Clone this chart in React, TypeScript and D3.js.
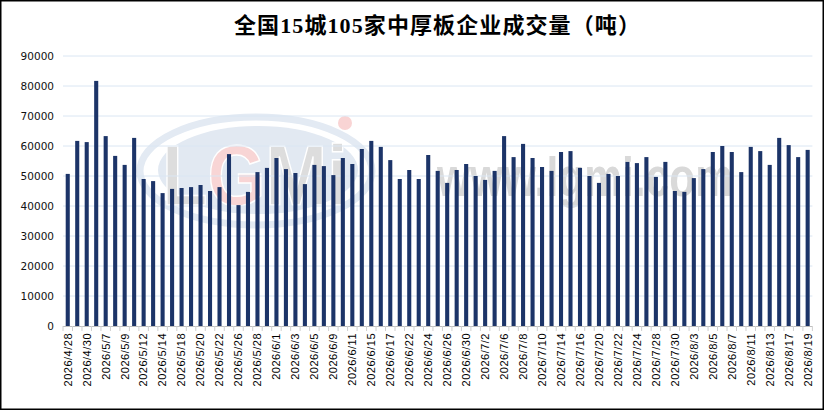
import React from "react";
import * as d3 from "d3";

const dates: string[] = [
  "2026/4/28","2026/4/29","2026/4/30","2026/5/6","2026/5/7","2026/5/8","2026/5/9","2026/5/11","2026/5/12","2026/5/13",
  "2026/5/14","2026/5/15","2026/5/18","2026/5/19","2026/5/20","2026/5/21","2026/5/22","2026/5/25","2026/5/26","2026/5/27",
  "2026/5/28","2026/5/29","2026/6/1","2026/6/2","2026/6/3","2026/6/4","2026/6/5","2026/6/8","2026/6/9","2026/6/10",
  "2026/6/11","2026/6/12","2026/6/15","2026/6/16","2026/6/17","2026/6/18","2026/6/22","2026/6/23","2026/6/24","2026/6/25",
  "2026/6/26","2026/6/29","2026/6/30","2026/7/1","2026/7/2","2026/7/3","2026/7/6","2026/7/7","2026/7/8","2026/7/9",
  "2026/7/10","2026/7/13","2026/7/14","2026/7/15","2026/7/16","2026/7/17","2026/7/20","2026/7/21","2026/7/22","2026/7/23",
  "2026/7/24","2026/7/27","2026/7/28","2026/7/29","2026/7/30","2026/7/31","2026/8/3","2026/8/4","2026/8/5","2026/8/6",
  "2026/8/7","2026/8/10","2026/8/11","2026/8/12","2026/8/13","2026/8/14","2026/8/17","2026/8/18","2026/8/19",
];

const volumes: number[] = [
  50700, 61700, 61300, 81700, 63300, 56700, 53700, 62700, 49000, 48300,
  44300, 45700, 46000, 46300, 47000, 45000, 46300, 57300, 40300, 44700,
  51300, 52700, 56000, 52300, 51000, 47300, 53700, 53300, 50300, 56000,
  54000, 59000, 61700, 59700, 55300, 49000, 52000, 49000, 57000, 51700,
  47700, 52000, 54000, 50000, 48700, 51700, 63300, 56300, 60700, 56000,
  53000, 51700, 58000, 58300, 52700, 50000, 47700, 50700, 50000, 54700,
  54300, 56300, 49700, 54700, 45000, 44700, 49300, 52300, 58000, 60000,
  58000, 51300, 59700, 58300, 53700, 62700, 60300, 56300, 58700,
];

const yTicks: number[] = [0, 10000, 20000, 30000, 40000, 50000, 60000, 70000, 80000, 90000];

const title = "全国15城105家中厚板企业成交量（吨）";

const W = 825;
const H = 411;
const left = 63;
const right = 812.4;
const top = 56;
const bottom = 326;

export default function App() {
  const x = d3.scaleBand<string>().domain(dates).range([left, right]).paddingInner(0.57).paddingOuter(0.285);
  const y = d3.scaleLinear().domain([0, 90000]).range([bottom, top]);
  const bw = x.bandwidth();

  const boundaries = d3.range(dates.length + 1).map((i) => left + i * ((right - left) / dates.length));

  return (
    <svg
      width={W}
      height={H}
      viewBox={`0 0 ${W} ${H}`}
      style={{ position: "absolute", left: 0, top: 0, background: "#fff" }}
    >
      <rect x={0} y={0} width={W} height={H} fill="#fff" />

      {/* watermark */}
      <g>
        <ellipse cx={256} cy={171} rx={116} ry={54} fill="none" stroke="#e3eaf3" strokeWidth={7} />
        <ellipse cx={258} cy={170} rx={100} ry={44} fill="#e2e9f2" />
        <text
          x={162}
          y={205}
          textLength={186}
          lengthAdjust="spacingAndGlyphs"
          fontFamily="Liberation Sans, Arial, sans-serif"
          fontWeight="bold"
          fontSize={86}
          fill="#dddddd"
          stroke="#ffffff"
          strokeWidth={1.5}
        >
          L<tspan fill="#f8d5d5">G</tspan>Mi
        </text>
        <circle cx={345} cy={123} r={7} fill="#f9d4d4" />
        <text
          x={437}
          y={196}
          textLength={296}
          lengthAdjust="spacingAndGlyphs"
          fontFamily="Liberation Sans, Arial, sans-serif"
          fontWeight="bold"
          fontSize={56}
          fill="#d9d9d9"
        >
          www.lgmi.com
        </text>
      </g>

      {/* title */}
      <text
        x={234}
        y={33}
        fontFamily="'Liberation Serif', 'Noto Sans CJK SC', serif"
        fontWeight="bold"
        fontSize={22}
        letterSpacing={1.1}
        fill="#000"
      >
        {title}
      </text>

      {/* gridlines */}
      {yTicks.filter((t) => t > 0).map((t) => (
        <line key={t} x1={left} x2={right} y1={y(t)} y2={y(t)} stroke="#dae6f3" strokeWidth={1} />
      ))}

      {/* y labels */}
      {yTicks.map((t) => (
        <text
          key={"yl" + t}
          x={54}
          y={y(t)}
          dy="0.36em"
          textAnchor="end"
          fontFamily="'DejaVu Sans', sans-serif"
          fontSize={10.5}
          fill="#111"
        >
          {t}
        </text>
      ))}

      {/* bars */}
      {dates.map((d, i) => (
        <rect
          key={d}
          x={x(d)!}
          y={y(volumes[i])}
          width={bw}
          height={bottom - y(volumes[i])}
          fill="#1c3468"
        />
      ))}

      {/* x axis */}
      <line x1={left} x2={right} y1={bottom + 0.5} y2={bottom + 0.5} stroke="#bfbfbf" strokeWidth={1} />
      {boundaries.map((b, i) => (
        <line key={"tk" + i} x1={b} x2={b} y1={bottom} y2={bottom + 5} stroke="#d0d0d0" strokeWidth={1} />
      ))}

      {/* x labels */}
      {dates.map((d, i) =>
        i % 2 === 0 ? (
          <text
            key={"xl" + d}
            transform={`translate(${x(d)! + bw / 2},333) rotate(-90)`}
            textAnchor="end"
            dy="0.35em"
            fontFamily="'Liberation Sans', Arial, sans-serif"
            fontSize={11}
            letterSpacing={0.5}
            fill="#000"
          >
            {d}
          </text>
        ) : null
      )}

      {/* border */}
      <rect x={0.75} y={0.75} width={W - 2.5} height={H - 2.5} fill="none" stroke="#000" strokeWidth={1.5} />
    </svg>
  );
}
